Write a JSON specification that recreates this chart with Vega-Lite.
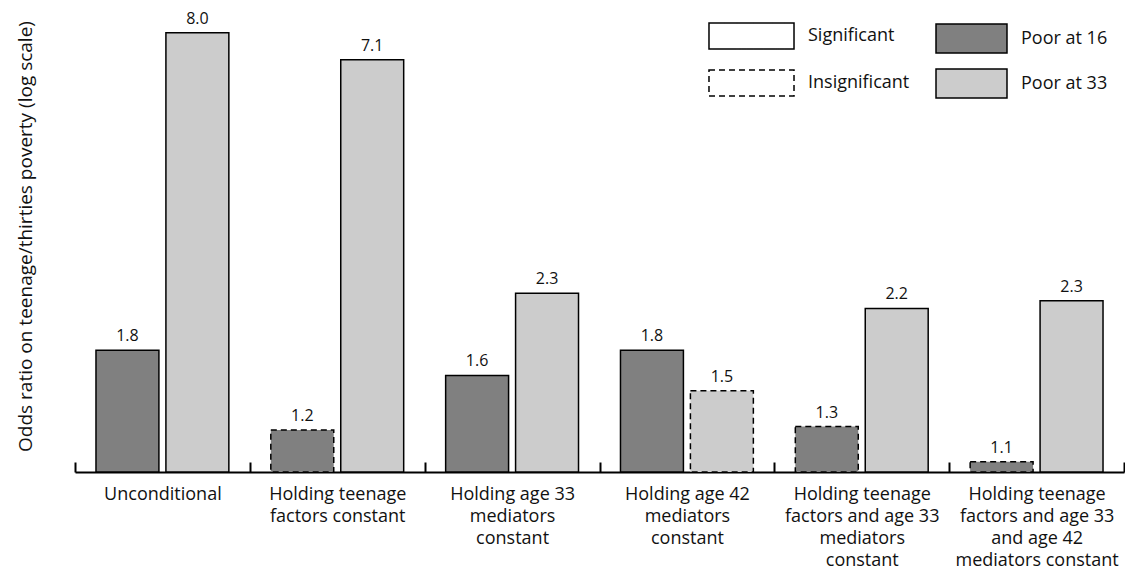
{
  "$schema": "https://vega.github.io/schema/vega-lite/v6.json",
  "width": 1049,
  "height": 464,
  "autosize": {"type": "none"},
  "padding": {"left": 75, "top": 8, "right": 1, "bottom": 101},
  "background": "white",
  "config": {
    "font": "Open Sans",
    "view": {"stroke": null},
    "legend": {"symbolStrokeColor": "black", "symbolStrokeWidth": 1.5, "labelFontSize": 18, "labelColor": "#111", "labelFont": "Open Sans"}
  },
  "data": {
    "values": [
      {"group": "Unconditional", "series": "Poor at 16", "value": 1.78, "label": "1.8", "sig": "Significant"},
      {"group": "Unconditional", "series": "Poor at 33", "value": 8.0, "label": "8.0", "sig": "Significant"},
      {"group": "Holding teenage|factors constant", "series": "Poor at 16", "value": 1.22, "label": "1.2", "sig": "Insignificant"},
      {"group": "Holding teenage|factors constant", "series": "Poor at 33", "value": 7.04, "label": "7.1", "sig": "Significant"},
      {"group": "Holding age 33|mediators|constant", "series": "Poor at 16", "value": 1.58, "label": "1.6", "sig": "Significant"},
      {"group": "Holding age 33|mediators|constant", "series": "Poor at 33", "value": 2.33, "label": "2.3", "sig": "Significant"},
      {"group": "Holding age 42|mediators|constant", "series": "Poor at 16", "value": 1.78, "label": "1.8", "sig": "Significant"},
      {"group": "Holding age 42|mediators|constant", "series": "Poor at 33", "value": 1.47, "label": "1.5", "sig": "Insignificant"},
      {"group": "Holding teenage|factors and age 33|mediators|constant", "series": "Poor at 16", "value": 1.24, "label": "1.3", "sig": "Insignificant"},
      {"group": "Holding teenage|factors and age 33|mediators|constant", "series": "Poor at 33", "value": 2.17, "label": "2.2", "sig": "Significant"},
      {"group": "Holding teenage|factors and age 33|and age 42|mediators constant", "series": "Poor at 16", "value": 1.05, "label": "1.1", "sig": "Insignificant"},
      {"group": "Holding teenage|factors and age 33|and age 42|mediators constant", "series": "Poor at 33", "value": 2.25, "label": "2.3", "sig": "Significant"}
    ]
  },
  "encoding": {
    "x": {
      "field": "group", "type": "nominal", "sort": null,
      "scale": {"paddingInner": 0, "paddingOuter": 0},
      "axis": {
        "title": null, "labelAngle": 0, "labelExpr": "split(datum.label, '|')",
        "labelFontSize": 18, "labelColor": "#111", "labelLineHeight": 22,
        "domainColor": "black", "domainWidth": 2, "tickColor": "black", "tickWidth": 2,
        "tickBand": "extent", "tickSize": -10, "labelPadding": 23
      }
    },
    "xOffset": {"field": "series", "type": "nominal", "scale": {"domain": ["Poor at 16", "Poor at 33"], "paddingInner": 0.1, "paddingOuter": 0.3}},
    "y": {
      "field": "value", "type": "quantitative", "stack": null,
      "scale": {"type": "log", "domain": [1, 9], "nice": false},
      "axis": {"title": "Odds ratio on teenage/thirties poverty (log scale)", "titleFontSize": 19, "titleFontWeight": "normal", "titleColor": "#111", "labels": false, "ticks": false, "domain": false, "grid": false, "titlePadding": 40, "titleY": 228}
    }
  },
  "layer": [
    {
      "mark": {"type": "bar", "stroke": "black", "strokeWidth": 1.5},
      "encoding": {
        "y2": {"datum": 1},
        "fill": {
          "field": "series", "type": "nominal",
          "scale": {"domain": ["Poor at 16", "Poor at 33"], "range": ["#808080", "#cccccc"]},
          "legend": {"title": null, "orient": "none", "legendX": 881, "legendY": 15, "symbolType": "M-2.448,-1H2.448V1H-2.448Z", "symbolSize": 841, "symbolDash": [], "rowPadding": 10, "labelOffset": 34}
        },
        "strokeDash": {
          "field": "sig", "type": "nominal",
          "scale": {"domain": ["Significant", "Insignificant"], "range": [[1, 0], [6, 4]]},
          "legend": {"title": null, "orient": "none", "legendX": 662.5, "legendY": 14, "symbolType": "M-3.27,-1H3.27V1H-3.27Z", "symbolSize": 676, "symbolFillColor": "white", "rowPadding": 15, "labelOffset": 42.5}
        }
      }
    },
    {
      "mark": {"type": "text", "baseline": "bottom", "dy": -6, "fontSize": 16, "color": "#111"},
      "encoding": {"text": {"field": "label"}}
    }
  ]
}
